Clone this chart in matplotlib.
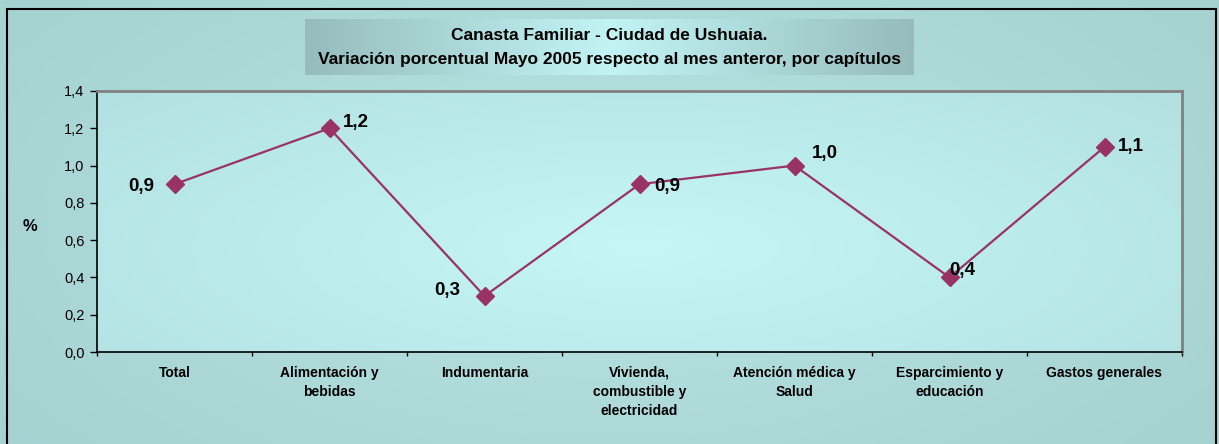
import matplotlib
matplotlib.use("Agg")
import matplotlib.pyplot as plt
import numpy as np
from matplotlib.colors import LinearSegmentedColormap
from matplotlib.patches import Rectangle

plt.rcParams['font.family'] = ['Liberation Sans', 'DejaVu Sans']

categories = ["Total", "Alimentación y\nbebidas", "Indumentaria",
              "Vivienda,\ncombustible y\nelectricidad", "Atención médica y\nSalud",
              "Esparcimiento y\neducación", "Gastos generales"]
values = [0.9, 1.2, 0.3, 0.9, 1.0, 0.4, 1.1]
value_labels = ["0,9", "1,2", "0,3", "0,9", "1,0", "0,4", "1,1"]
# label offsets in points (dx, dy)
label_offsets = [(-24, -1.5), (19, 4), (-27, 4), (20, -1.5), (22, 9), (9, 5), (19, 0)]
yticks = [0.0, 0.2, 0.4, 0.6, 0.8, 1.0, 1.2, 1.4]
ytick_labels = ["0,0", "0,2", "0,4", "0,6", "0,8", "1,0", "1,2", "1,4"]

fig = plt.figure(figsize=(12.19, 4.44), dpi=100)

# figure background with soft gradient
bg = fig.add_axes([0, 0, 1, 1], zorder=-10)
yy, xx = np.mgrid[0:1:200j, 0:1:400j]
r = np.sqrt(((xx - 0.5) / 0.6) ** 2 + ((yy - 0.5) / 0.8) ** 2)
bg_cmap = LinearSegmentedColormap.from_list("bg", ["#b8e4e4", "#a6d2d2"])
bg.imshow(r, cmap=bg_cmap, extent=[0, 1, 0, 1], aspect='auto', vmin=0, vmax=1)
bg.add_patch(Rectangle((6.5 / 1219, -0.05), 1209.5 / 1219, 1.05 - 9.5 / 444, fill=False,
                       edgecolor='black', linewidth=1.5, transform=bg.transAxes, clip_on=False))
bg.set_xlim(0, 1)
bg.set_ylim(0, 1)
bg.axis('off')

ax = fig.add_axes([97 / 1219, 1 - 352 / 444, (1182 - 97) / 1219, (352 - 91) / 444])
x = np.arange(len(categories))

# plot area gradient
pr = np.sqrt(((xx - 0.5) / 0.7) ** 2 + ((yy - 0.6) / 0.9) ** 2)
pa_cmap = LinearSegmentedColormap.from_list("pa", ["#c6f6f6", "#b2e0e0"])
ax.imshow(pr, cmap=pa_cmap, extent=[-0.5, 6.5, 0, 1.4], aspect='auto', vmin=0, vmax=1, zorder=0)

ax.plot(x, values, color='#993366', linewidth=1.6, marker='D', markersize=9,
        markerfacecolor='#993366', markeredgecolor='#993366', zorder=3)

for xi, v, lab, off in zip(x, values, value_labels, label_offsets):
    ax.annotate(lab, xy=(xi, v), xytext=off, textcoords='offset points',
                ha='center', va='center', fontsize=13.5, fontweight='bold', zorder=4)

ax.set_xlim(-0.5, 6.5)
ax.set_ylim(0, 1.4)
ax.set_yticks(yticks)
ax.set_yticklabels(ytick_labels, fontsize=10.5)
ax.set_xticks(np.arange(len(categories) + 1) - 0.5)
ax.set_xticklabels([])
ax.set_xticks(x, minor=True)
ax.set_xticklabels(categories, minor=True, fontsize=10, fontweight='bold', linespacing=1.45)
ax.tick_params(axis='x', which='minor', length=0, pad=10)
ax.tick_params(axis='x', which='major', direction='out', length=3, width=1)
ax.tick_params(axis='y', direction='out', length=5, width=1, pad=4)

for s in ['left', 'bottom']:
    ax.spines[s].set_color('black')
    ax.spines[s].set_linewidth(1.2)
for s in ['top', 'right']:
    ax.spines[s].set_color('#808080')
    ax.spines[s].set_linewidth(2)

fig.text(30 / 1219, 1 - 226 / 444, "%", fontsize=12, fontweight='bold', ha='center', va='center')

# title box with horizontal gradient
tb = fig.add_axes([305 / 1219, 1 - 75 / 444, (913 - 305) / 1219, (75 - 19) / 444], zorder=5)
tx = np.linspace(-1, 1, 400)
tprof = np.abs(tx)[None, :] * np.ones((20, 1))
tb_cmap = LinearSegmentedColormap.from_list("tb", ["#c2f4f4", "#96bcbc"])
tb.imshow(tprof, cmap=tb_cmap, extent=[0, 1, 0, 1], aspect='auto', vmin=0, vmax=1)
tb.set_xlim(0, 1)
tb.set_ylim(0, 1)
tb.axis('off')
tb.text(0.5, 0.70, "Canasta Familiar - Ciudad de Ushuaia.", ha='center', va='center',
        fontsize=12.5, fontweight='bold')
tb.text(0.5, 0.27, "Variación porcentual Mayo 2005 respecto al mes anteror, por capítulos",
        ha='center', va='center', fontsize=12.5, fontweight='bold')

fig.savefig("out.png", dpi=100)
